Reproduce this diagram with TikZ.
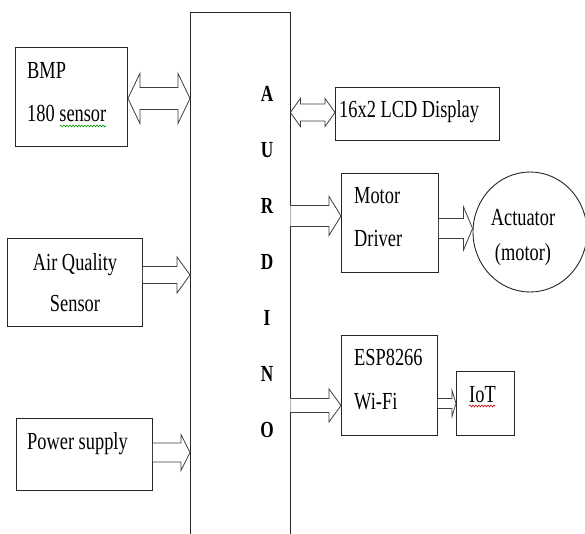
\documentclass[tikz,border=0pt]{standalone}
\usepackage{fontspec}
\setmainfont{Liberation Serif}[FakeStretch=0.75]
\usetikzlibrary{calc,shapes.geometric,decorations.pathmorphing}

\tikzset{
  box/.style={draw=black!85,line width=0.9pt,inner sep=0pt},
  lbl/.style={inner sep=0pt,font=\fontsize{24.5}{28}\selectfont},
  ltr/.style={inner sep=0pt,font=\fontsize{23}{26}\selectfont\bfseries},
  blk/.style={draw=black!75,line width=0.8pt,fill=white,line join=miter},
  wavy/.style={line width=0.6pt,decorate,decoration={snake,segment length=3pt,amplitude=0.9pt}},
}

% hollow block arrow: from, to, shaft half width, head half width, head length
\newcommand\hollowarrow[5]{%
  \draw[blk] let \p1=(#1), \p2=(#2) in
    (\x1,\y1+#3) -- (\x2-#5,\y1+#3) -- (\x2-#5,\y1+#4) -- (\x2,\y1)
    -- (\x2-#5,\y1-#4) -- (\x2-#5,\y1-#3) -- (\x1,\y1-#3);}
% same, with a head at both ends
\newcommand\hollowdarrow[5]{%
  \draw[blk] let \p1=(#1), \p2=(#2) in
    (\x1,\y1) -- (\x1+#5,\y1+#4) -- (\x1+#5,\y1+#3) -- (\x2-#5,\y1+#3)
    -- (\x2-#5,\y1+#4) -- (\x2,\y1) -- (\x2-#5,\y1-#4) -- (\x2-#5,\y1-#3)
    -- (\x1+#5,\y1-#3) -- (\x1+#5,\y1-#4) -- cycle;}

\begin{document}
\begin{tikzpicture}[x=1pt,y=-1pt]
  \clip (0,0) rectangle (585,533);
  \fill[white] (0,0) rectangle (585,533);

  % blocks
  \node[box,minimum width=99.5pt,minimum height=560pt,anchor=north west] (ard) at (190,12) {};
  \node[box,minimum width=112pt,minimum height=99pt,anchor=north west] (bmp) at (15,47) {};
  \node[box,minimum width=135pt,minimum height=88pt,anchor=north west] (aq) at (7,238) {};
  \node[box,minimum width=136pt,minimum height=72pt,anchor=north west] (pwr) at (16,418) {};
  \node[box,minimum width=164pt,minimum height=53pt,anchor=north west] (lcd) at (335,87) {};
  \node[box,minimum width=97pt,minimum height=99pt,anchor=north west] (md) at (341,173) {};
  \node[box,ellipse,minimum width=114pt,minimum height=120pt] (act) at (530,232) {};
  \node[box,minimum width=96pt,minimum height=100pt,anchor=north west] (esp) at (341,335) {};
  \node[box,minimum width=58pt,minimum height=64pt,anchor=north west] (iot) at (456,371) {};

  \foreach \ch [count=\i from 0] in {A,U,R,D,I,N,O}
    \node[ltr,anchor=base] (ltr\i) at (267,101+56*\i) {\ch};

  % labels
  \node[lbl,anchor=base west] (bmpa) at (27,78) {BMP};
  \node[lbl,anchor=base west] (bmpb) at (27,121) {180 sensor};
  \node[lbl,anchor=base] (aqa) at (75,270) {Air Quality};
  \node[lbl,anchor=base] (aqb) at (75,311) {Sensor};
  \node[lbl,anchor=base west] (pwrt) at (27,449) {Power supply};
  \node[lbl,anchor=base west] (lcdt) at (339,117.5) {16x2 LCD Display};
  \node[lbl,anchor=base west] (mda) at (354,203) {Motor};
  \node[lbl,anchor=base west] (mdb) at (354,246) {Driver};
  \node[lbl,anchor=base] (acta) at (523,225.5) {Actuator};
  \node[lbl,anchor=base] (actb) at (523,260) {(motor)};
  \node[lbl,anchor=base west] (espa) at (354,365.5) {ESP8266};
  \node[lbl,anchor=base west] (espb) at (354,409) {Wi-Fi};
  \node[lbl,anchor=base west] (iott) at (469,402) {IoT};

  \draw[wavy,green!60!black] (60,126) -- (106,126);
  \draw[wavy,red!80!black] (469,406) -- (495,406);

  % arrow ends
  \coordinate (bmpR) at ([yshift=-1.5pt]bmp.east);
  \coordinate (aqR) at ([yshift=7.5pt]aq.east);
  \coordinate (pwrR) at ([yshift=2pt]pwr.east);
  \coordinate (lcdL) at ([yshift=1.5pt]lcd.west);
  \coordinate (mdL) at ([yshift=7pt]md.west);
  \coordinate (mdR) at ([yshift=-5.5pt]md.east);
  \coordinate (espL) at ([yshift=-20pt]esp.west);
  \coordinate (espR) at ([yshift=-18pt]esp.east);

  \hollowdarrow{bmpR}{bmpR -| ard.west}{11}{25}{12}
  \hollowarrow{aqR}{aqR -| ard.west}{8.5}{18}{13}
  \hollowarrow{pwrR}{pwrR -| ard.west}{9.5}{18}{9}
  \hollowdarrow{lcdL -| ard.east}{lcdL}{8.5}{14}{10}
  \hollowarrow{mdL -| ard.east}{mdL}{10.5}{19.5}{12}
  \hollowarrow{mdR}{mdR -| act.west}{10}{21.5}{9}
  \hollowarrow{espL -| ard.east}{espL}{7}{16.5}{12}
  \hollowarrow{espR}{espR -| iot.west}{5}{13}{4}
\end{tikzpicture}
\end{document}
